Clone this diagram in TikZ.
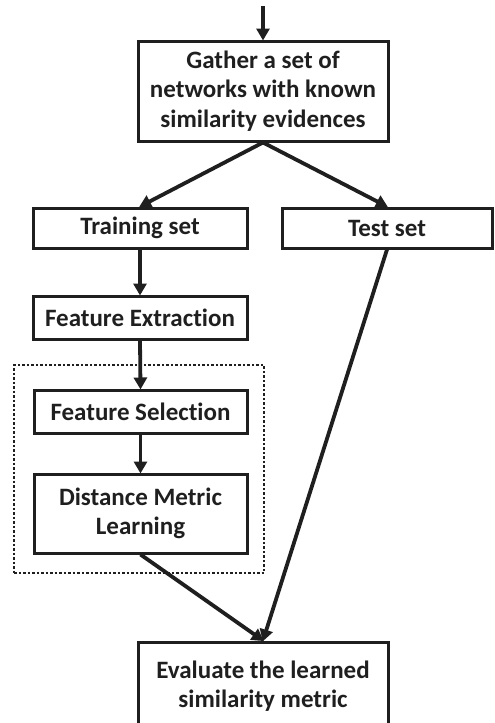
\documentclass[tikz,border=0pt]{standalone}
\usepackage{fontspec}
\setmainfont[Ligatures=NoCommon]{Carlito}
\usetikzlibrary{arrows.meta}
\begin{document}
\begin{tikzpicture}[x=1pt,y=-1pt,
  box/.style={draw=black!88, line width=3pt, inner sep=0pt, align=center,
    font=\bfseries\fontsize{25}{29.5}\selectfont, text=black!88},
  conn/.style={draw=black!88, line width=3.8pt, -{Triangle[length=12pt,width=13pt]}, shorten >=-1pt}]
\useasboundingbox (0,0) rectangle (495,723);
\clip (0,0) rectangle (495,723);
\node[box, minimum width=250pt, minimum height=100pt] (gather) at (263,91) {Gather a set of\\networks with known\\similarity evidences};
\node[box, minimum width=214pt, minimum height=40pt] (train) at (140,228) {Training set};
\node[box, minimum width=210pt, minimum height=40pt] (test) at (387,228) {Test set};
\node[box, minimum width=214pt, minimum height=43pt] (fe) at (140,317.5) {Feature Extraction};
\node[box, minimum width=213pt, minimum height=43pt] (fs) at (140.5,411.5) {Feature Selection};
\node[box, minimum width=213pt, minimum height=79pt] (dml) at (140.5,513.5) {Distance Metric\\Learning};
\node[box, minimum width=250pt, minimum height=88pt] (eval) at (263,686) {Evaluate the learned\\similarity metric};
\node[draw=black!88, line width=2.5pt, dotted, minimum width=250pt, minimum height=208pt, inner sep=0pt] (grp) at (139,469) {};
\coordinate (start) at (263,6);
\draw[conn] (start) -- (gather.north);
\draw[conn] (gather.south) -- (train.north);
\draw[conn] (gather.south) -- (test.north);
\draw[conn] (train.south) -- (fe.north);
\draw[conn] (fe.south) -- (fs.north);
\draw[conn] (fs.south) -- (dml.north);
\draw[conn] (dml.south) -- (eval.north);
\draw[conn] (test.south) -- (eval.north);
\end{tikzpicture}
\end{document}
